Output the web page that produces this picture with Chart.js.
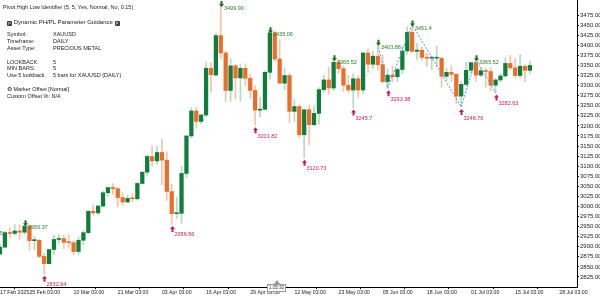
<!DOCTYPE html>
<html>
<head>
<meta charset="utf-8">
<script src="https://cdn.jsdelivr.net/npm/chart.js@4.4.1/dist/chart.umd.min.js"></script>
<style>
  html, body { margin: 0; padding: 0; background: #fff; }
  #wrap { position: relative; width: 600px; height: 297px; overflow: hidden; }
  #info { position: absolute; left: 0; top: 0; font-family: "Liberation Sans", Arial, sans-serif; color: #1a1a1a; }
  #info div { position: absolute; white-space: nowrap; font-size: 5.5px; line-height: 6px; }
  #info .v { left: 53px; }
  .ico { display: inline-block; width: 5px; height: 5px; background: #3c3c3c; color: #fff; font-size: 4px; line-height: 5px; text-align: center; vertical-align: -0.5px; border-radius: 1px; }
  #shift { position: absolute; left: 267px; top: 284px; width: 17px; height: 6px; border: 1px solid #9a9a9a; background: #fff;
           font-family: "Liberation Sans", Arial, sans-serif; font-size: 4.5px; line-height: 6px; text-align: center; color: #333; }
  #caret { position: absolute; left: 274px; top: 280px; width: 0; height: 0; border-left: 3px solid transparent; border-right: 3px solid transparent; border-bottom: 4px solid #9a9a9a; }
</style>
</head>
<body>
<div id="wrap">
  <canvas id="c" width="600" height="297"></canvas>
  <div id="info">
    <div style="left:3px;top:4px">Pivot High Low Identifier (5, 5, Yes, Normal, No, 0.15)</div>
    <div style="left:7px;top:19px;font-size:6px"><span class="ico">P</span> Dynamic PH/PL Parameter Guidance <span class="ico">P</span></div>
    <div style="left:7px;top:31px">Symbol:</div><div class="v" style="top:31px">XAUUSD</div>
    <div style="left:7px;top:38px">Timeframe:</div><div class="v" style="top:38px">DAILY</div>
    <div style="left:7px;top:45px">Asset Type:</div><div class="v" style="top:45px">PRECIOUS METAL</div>
    <div style="left:7px;top:59px">LOOKBACK:</div><div class="v" style="top:59px">5</div>
    <div style="left:7px;top:65px">MIN BARS:</div><div class="v" style="top:65px">5</div>
    <div style="left:7px;top:72px">Use 5 lookback</div><div class="v" style="top:72px">5 bars for XAUUSD (DAILY)</div>
    <div style="left:7px;top:86px">⚙ Marker Offset [Normal]</div>
    <div style="left:7px;top:93px">Custom Offset %: N/A</div>
  </div>
  <div id="caret"></div>
  <div id="shift">1:05:30</div>
</div>
<script>
// XAUUSD daily, 17 Feb 2025 .. 18 Jul 2025
const dates = [
  "17 Feb","18 Feb","19 Feb","20 Feb","21 Feb","24 Feb","25 Feb","26 Feb","27 Feb","28 Feb",
  "03 Mar","04 Mar","05 Mar","06 Mar","07 Mar","10 Mar","11 Mar","12 Mar","13 Mar","14 Mar",
  "17 Mar","18 Mar","19 Mar","20 Mar","21 Mar","24 Mar","25 Mar","26 Mar","27 Mar","28 Mar",
  "31 Mar","01 Apr","02 Apr","03 Apr","04 Apr","07 Apr","08 Apr","09 Apr","10 Apr","11 Apr",
  "14 Apr","15 Apr","16 Apr","17 Apr","21 Apr","22 Apr","23 Apr","24 Apr","25 Apr","28 Apr",
  "29 Apr","30 Apr","01 May","02 May","05 May","06 May","07 May","08 May","09 May","12 May",
  "13 May","14 May","15 May","16 May","19 May","20 May","21 May","22 May","23 May","26 May",
  "27 May","28 May","29 May","30 May","02 Jun","03 Jun","04 Jun","05 Jun","06 Jun","09 Jun",
  "10 Jun","11 Jun","12 Jun","13 Jun","16 Jun","17 Jun","18 Jun","19 Jun","20 Jun","23 Jun",
  "24 Jun","25 Jun","26 Jun","27 Jun","30 Jun","01 Jul","02 Jul","03 Jul","04 Jul","07 Jul",
  "08 Jul","09 Jul","10 Jul","11 Jul","14 Jul","15 Jul","16 Jul","17 Jul","18 Jul"
];
const open = [
  2882,2899,2935,2933,2939,2936,2951,2915,2916,2876,
  2858,2893,2918,2920,2911,2910,2888,2916,2935,2988,
  2984,3001,3034,3047,3044,3022,3011,3020,3019,3057,
  3085,3124,3113,3134,3115,3037,2982,2983,3082,3175,
  3237,3211,3227,3343,3326,3424,3381,3288,3349,3319,
  3343,3318,3288,3239,3241,3333,3431,3366,3306,3325,
  3236,3248,3178,3240,3203,3231,3290,3314,3294,3358,
  3342,3301,3289,3317,3289,3381,3353,3373,3352,3310,
  3326,3322,3340,3386,3432,3385,3388,3370,3368,3368,
  3368,3323,3333,3328,3274,3303,3338,3357,3326,3337,
  3335,3301,3314,3324,3355,3344,3325,3348,3338
];
const high = [
  2907,2938,2947,2955,2954,2956,2954,2925,2918,2883,
  2894,2928,2930,2928,2930,2916,2924,2940,2990,3004,
  3002,3038,3048,3057,3047,3034,3028,3032,3060,3087,
  3128,3149,3149,3167,3136,3055,3023,3099,3176,3245,
  3245,3229,3357,3357,3430,3500,3386,3367,3353,3352,
  3354,3328,3299,3270,3336,3435,3435,3414,3343,3330,
  3265,3252,3241,3252,3250,3295,3325,3345,3366,3364,
  3349,3325,3330,3325,3382,3392,3385,3403,3375,3341,
  3349,3344,3397,3446,3451,3404,3396,3380,3374,3398,
  3369,3343,3350,3330,3310,3358,3358,3365,3345,3342,
  3345,3317,3330,3369,3375,3367,3377,3352,3361
];
const low = [
  2881,2897,2922,2928,2918,2930,2890,2893,2873,2832,
  2857,2880,2908,2895,2896,2880,2880,2905,2932,2978,
  2980,2998,3025,3030,2999,3002,3010,3012,3015,3055,
  3076,3100,3105,3054,3015,2956,2970,2957,3072,3170,
  3194,3205,3222,3283,3325,3367,3260,3260,3266,3261,
  3300,3268,3202,3222,3240,3316,3360,3306,3290,3208,
  3210,3171,3121,3153,3200,3204,3283,3278,3287,3330,
  3285,3283,3245,3271,3280,3333,3343,3339,3306,3293,
  3310,3310,3330,3378,3383,3365,3363,3347,3340,3347,
  3295,3312,3310,3255,3247,3300,3330,3311,3322,3296,
  3287,3282,3310,3322,3340,3320,3319,3310,3330
];
const close = [
  2899,2935,2933,2939,2936,2951,2915,2916,2876,2858,
  2893,2918,2920,2911,2910,2888,2916,2935,2988,2984,
  3001,3034,3047,3044,3022,3011,3020,3019,3057,3085,
  3124,3113,3134,3115,3037,2982,2983,3082,3175,3237,
  3211,3227,3343,3327,3424,3381,3288,3349,3319,3343,
  3318,3288,3239,3241,3333,3431,3366,3306,3325,3236,
  3248,3178,3240,3203,3231,3290,3314,3294,3358,3342,
  3301,3289,3317,3289,3381,3353,3373,3352,3310,3326,
  3322,3340,3386,3432,3385,3388,3370,3368,3368,3368,
  3323,3333,3328,3274,3303,3338,3357,3326,3337,3335,
  3301,3314,3324,3355,3344,3325,3348,3338,3350
];

// pivot markers (bar index, high/low, price, printed text); index -4 is 11 Feb, left of the view
const pivotIdx   = [-4, 5, 9, 35, 45, 52, 55, 62, 68, 72, 77, 79, 84, 94, 97, 101];
const pivotType  = ["H","H","L","L","H","L","H","L","H","L","H","L","H","L","H","L"];
const pivotPrice = [2942.75, 2956, 2832.64, 2956.56, 3499.9, 3201.82, 3435.06, 3120.73, 3365.52, 3245.7, 3403.88, 3293.38, 3451.4, 3246.76, 3365.52, 3282.63];
const pivotText  = ["2942.75","2956.37","2832.64","2956.56","3499.90","3201.82","3435.06","3120.73","3365.52","3245.7","3403.88","3293.38","3451.4","3246.76","3365.52","3282.63"];
const zigzagFrom = 10; // last six pivots joined by the dotted line

// time axis labels (bar index, text)
const xTickIdx  = [0, 6, 15, 24, 33, 42, 51, 60, 69, 78, 87, 96, 105, 114];
const xTickText = ["17 Feb 2025","25 Feb 03:00","10 Mar 03:00","21 Mar 03:00","03 Apr 03:00","16 Apr 03:00","29 Apr 03:00",
  "12 May 03:00","23 May 03:00","05 Jun 03:00","18 Jun 03:00","01 Jul 03:00","15 Jul 03:00","28 Jul 03:00"];

const yMin = 2800, yMax = 3512.5, yStep = 25;
const xMax = 117.6;

const bull = { body: "#0f7d3c", wick: "#b2dbc1" };
const bear = { body: "#ec6d2b", wick: "#f7c4a6" };
const upCol = "#1b6f1b", dnCol = "#c81b52";

const isBull = close.map((c, i) => c >= open[i]);

const markers = {
  id: "markers",
  afterDatasetsDraw(chart) {
    const { ctx, chartArea, scales: { x, y } } = chart;
    ctx.save();
    ctx.beginPath();
    ctx.rect(chartArea.left, chartArea.top, chartArea.width, chartArea.height);
    ctx.clip();
    ctx.font = "5.5px 'Liberation Sans', Arial, sans-serif";
    ctx.textBaseline = "middle";
    ctx.textAlign = "left";
    pivotIdx.forEach((bi, k) => {
      const px = Math.round(x.getPixelForValue(bi)) + 0.5;
      const py = y.getPixelForValue(pivotPrice[k]);
      ctx.beginPath();
      if (pivotType[k] === "H") {
        const t = py + 2;
        ctx.fillStyle = upCol;
        ctx.moveTo(px, t); ctx.lineTo(px - 2.5, t - 3); ctx.lineTo(px - 1, t - 3);
        ctx.lineTo(px - 1, t - 6); ctx.lineTo(px + 1, t - 6); ctx.lineTo(px + 1, t - 3);
        ctx.lineTo(px + 2.5, t - 3); ctx.closePath(); ctx.fill();
        ctx.fillStyle = "#2a7d2a";
        ctx.fillText(pivotText[k], px + 2.5, t + 1.5);
      } else {
        const t = py + 2;
        ctx.fillStyle = dnCol;
        ctx.moveTo(px, t); ctx.lineTo(px - 2.5, t + 3); ctx.lineTo(px - 1, t + 3);
        ctx.lineTo(px - 1, t + 6); ctx.lineTo(px + 1, t + 6); ctx.lineTo(px + 1, t + 3);
        ctx.lineTo(px + 2.5, t + 3); ctx.closePath(); ctx.fill();
        ctx.fillText(pivotText[k], px + 2, t + 9);
      }
    });
    ctx.restore();
  }
};

new Chart(document.getElementById("c"), {
  type: "bar",
  data: {
    datasets: [
      {
        label: "wick",
        data: dates.map((d, i) => ({ x: i, y: [low[i], high[i]] })),
        backgroundColor: isBull.map(b => b ? bull.wick : bear.wick),
        barThickness: 1,
        grouped: false,
        order: 3,
      },
      {
        label: "body",
        data: dates.map((d, i) => ({ x: i, y: [open[i], close[i]] })),
        backgroundColor: isBull.map(b => b ? bull.body : bear.body),
        barThickness: 3.6,
        minBarLength: 1,
        grouped: false,
        order: 2,
      },
      {
        type: "line",
        label: "zigzag",
        data: pivotIdx.slice(zigzagFrom).map((bi, k) => ({ x: bi, y: pivotPrice[zigzagFrom + k] })),
        borderColor: "#4f9be0",
        borderWidth: 1,
        borderDash: [2, 1.5],
        pointRadius: 0,
        fill: false,
        order: 1,
      },
    ],
  },
  options: {
    responsive: false,
    animation: false,
    events: [],
    layout: { padding: 0 },
    plugins: { legend: { display: false }, tooltip: { enabled: false } },
    scales: {
      x: {
        type: "linear",
        min: 0,
        max: xMax,
        offset: false,
        grid: { display: true, drawOnChartArea: false, tickLength: 2, color: "#000" },
        border: { color: "#000", width: 1 },
        ticks: {
          align: "start",
          autoSkip: false,
          maxRotation: 0,
          padding: 0,
          color: "#222",
          font: { family: "'Liberation Sans', Arial, sans-serif", size: 5.2 },
          callback: (v, i) => xTickText[i],
        },
        afterBuildTicks: (s) => { s.ticks = xTickIdx.map(v => ({ value: v })); },
        afterFit: (s) => { s.height = 10; s.paddingLeft = 0; s.paddingRight = 0; },
      },
      y: {
        position: "right",
        min: yMin,
        max: yMax,
        grid: { display: true, drawOnChartArea: false, tickLength: 2, color: "#000" },
        border: { color: "#000", width: 1 },
        ticks: {
          stepSize: yStep,
          padding: 1,
          color: "#222",
          font: { family: "'Liberation Sans', Arial, sans-serif", size: 6 },
          callback: (v) => v.toFixed(2),
        },
        afterBuildTicks: (s) => { s.ticks = s.ticks.filter(t => t.value % yStep === 0 && t.value > yMin && t.value < yMax); },
        afterFit: (s) => { s.width = 23; s.paddingTop = 0; s.paddingBottom = 0; },
      },
    },
  },
  plugins: [markers],
});
</script>
</body>
</html>
